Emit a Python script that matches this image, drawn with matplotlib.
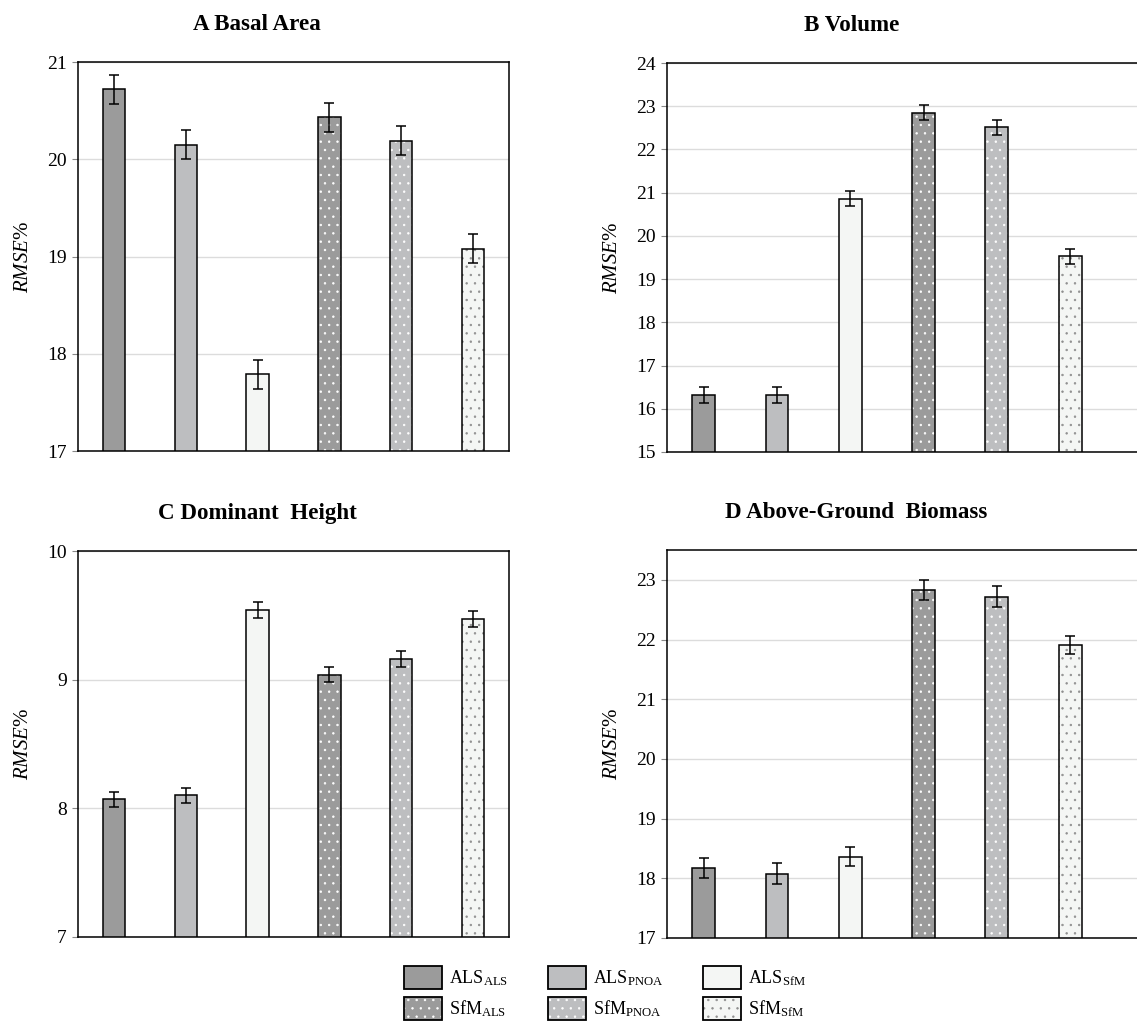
import matplotlib
matplotlib.use("Agg")
import matplotlib.pyplot as plt
import matplotlib.patches as mpatches
from matplotlib.colors import to_rgba
import numpy as np

plt.rcParams['font.family'] = ['Liberation Serif', 'DejaVu Serif']
plt.rcParams['mathtext.fontset'] = 'custom'
plt.rcParams['mathtext.rm'] = 'Liberation Serif'
plt.rcParams['mathtext.it'] = 'Liberation Serif:italic'
plt.rcParams['mathtext.bf'] = 'Liberation Serif:bold'
plt.rcParams['hatch.linewidth'] = 0.5

# ---------------- data ----------------
series = ["ALS_ALS", "ALS_PNOA", "ALS_SfM", "SfM_ALS", "SfM_PNOA", "SfM_SfM"]
legend_labels = [r"ALS$_{\mathrm{ALS}}$", r"ALS$_{\mathrm{PNOA}}$", r"ALS$_{\mathrm{SfM}}$",
                 r"SfM$_{\mathrm{ALS}}$", r"SfM$_{\mathrm{PNOA}}$", r"SfM$_{\mathrm{SfM}}$"]

titles = ["A Basal Area", "B Volume", "C Dominant  Height", "D Above-Ground  Biomass"]

basal_area = [20.72, 20.15, 17.79, 20.43, 20.19, 19.08]
basal_area_err = [0.15, 0.15, 0.15, 0.15, 0.15, 0.15]

volume = [16.32, 16.32, 20.86, 22.85, 22.51, 19.53]
volume_err = [0.18, 0.18, 0.17, 0.18, 0.18, 0.17]

dominant_height = [8.07, 8.10, 9.54, 9.04, 9.16, 9.47]
dominant_height_err = [0.06, 0.06, 0.06, 0.06, 0.06, 0.06]

biomass = [18.17, 18.08, 18.36, 22.83, 22.72, 21.91]
biomass_err = [0.17, 0.17, 0.16, 0.17, 0.17, 0.15]

values = [basal_area, volume, dominant_height, biomass]
errors = [basal_area_err, volume_err, dominant_height_err, biomass_err]

ylims = [(17, 21), (15, 24), (7, 10), (17, 23.5)]
yticks = [[17, 18, 19, 20, 21], list(range(15, 25)), [7, 8, 9, 10], list(range(17, 24))]

# ---------------- style ----------------
face = ["#9b9b9b", "#bdbec0", "#f4f6f4", "#9b9b9b", "#bdbec0", "#f4f6f4"]
hatches = [None, None, None, "..", "..", ".."]
hatch_colors = ["white", "white", "white", "white", "white", "#8f8f8f"]

W, H = 1137, 1023
fig = plt.figure(figsize=(W / 100, H / 100), dpi=100)

def rect(l, r, t, b):
    return [l / W, 1 - b / H, (r - l) / W, (b - t) / H]

positions = [rect(78, 509, 62, 451), rect(667, 1141, 63, 452),
             rect(78, 509, 551, 937), rect(667, 1141, 550, 938)]
xr = 5.5 + (1141 - 667) / 73.3 - 6
xlims = [(-0.5, 5.5), (-0.5, xr), (-0.5, 5.5), (-0.5, xr)]
title_x = [(257 - 78) / 431, (852 - 667) / 474, (257 - 78) / 431, (856 - 667) / 474]

x = np.arange(len(series))
bar_w = 0.31

for i in range(4):
    ax = fig.add_axes(positions[i])
    bars = ax.bar(x, np.array(values[i]) - ylims[i][0], bottom=ylims[i][0], width=bar_w,
                  color=face, edgecolor="black", linewidth=1.1, zorder=3)
    for p, h, hc in zip(bars, hatches, hatch_colors):
        if h:
            p.set_hatch(h)
            p._hatch_color = to_rgba(hc)
    ax.errorbar(x, values[i], yerr=errors[i], fmt="none", ecolor="black",
                elinewidth=1.1, capsize=3.5, capthick=1.1, zorder=4)
    ax.set_ylim(*ylims[i])
    ax.set_xlim(*xlims[i])
    ax.set_yticks(yticks[i])
    ax.set_yticklabels([str(t) for t in yticks[i]])
    ax.set_xticks([])
    ax.grid(axis="y", color="#dcdcdc", linewidth=1.0, zorder=0)
    ax.set_axisbelow(True)
    for s in ax.spines.values():
        s.set_linewidth(1.1)
        s.set_color("black")
    ax.tick_params(axis="y", direction="out", length=4, width=0.8, color="#888888",
                   labelsize=14, pad=4)
    ax.set_ylabel(r"$\mathit{RMSE}$%", fontsize=15, labelpad=10)
    ax.set_title(titles[i], fontsize=16.6, fontweight="bold", pad=23, x=title_x[i])

# legend (row-major order in a 3-column layout)
handles = []
for f, h, hc in zip(face, hatches, hatch_colors):
    p = mpatches.Patch(facecolor=f, edgecolor="black", linewidth=1.3)
    if h:
        p.set_hatch(h)
        p._hatch_color = to_rgba(hc)
    handles.append(p)
order = [0, 3, 1, 4, 2, 5]

fig.legend([handles[k] for k in order], [legend_labels[k] for k in order],
           loc="center", bbox_to_anchor=(605 / W, 1 - 993 / H),
           ncol=3, frameon=False, fontsize=13, handlelength=2.1, handleheight=1.6,
           handletextpad=0.4, columnspacing=2.2, labelspacing=0.45)

fig.savefig("out.png", dpi=100)
